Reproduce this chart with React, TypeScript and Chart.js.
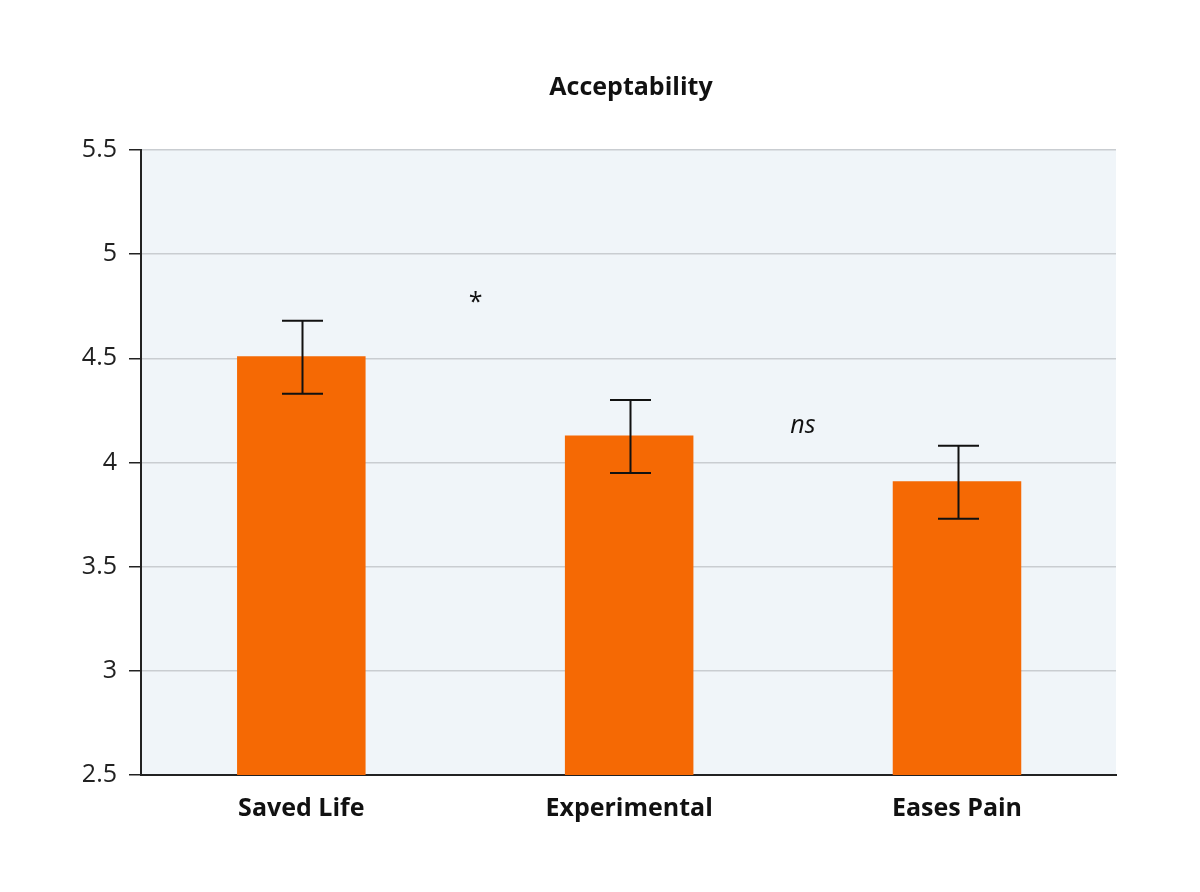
import { useRef, useEffect } from "react";
import { Chart, registerables } from "chart.js";

Chart.register(...registerables);

// data
const categories = ["Saved Life", "Experimental", "Eases Pain"];
const means = [4.51, 4.13, 3.91];
const errLow = [4.33, 3.95, 3.73];
const errHigh = [4.68, 4.3, 4.08];
// significance marks: label, x in category units, y in value units
const markLabels = ["*", "ns"];
const markX = [0.532, 1.53];
const markY = [4.765, 4.175];
const markItalic = [false, true];

const FONT = "'Open Sans', 'Noto Sans', sans-serif";

const plotBackground = {
  id: "plotBackground",
  beforeDraw(chart) {
    const { ctx, chartArea } = chart;
    ctx.save();
    ctx.fillStyle = "#f0f5f9";
    ctx.fillRect(chartArea.left, chartArea.top, chartArea.right - chartArea.left, chartArea.bottom - chartArea.top);
    ctx.restore();
  },
};

const errorBars = {
  id: "errorBars",
  afterDatasetsDraw(chart) {
    const { ctx } = chart;
    const y = chart.scales.y;
    const meta = chart.getDatasetMeta(0);
    ctx.save();
    ctx.strokeStyle = "#111";
    ctx.lineWidth = 2;
    meta.data.forEach((bar, i) => {
      const x = Math.round(bar.x) + 1.5;
      const top = y.getPixelForValue(errHigh[i]);
      const bottom = y.getPixelForValue(errLow[i]);
      ctx.beginPath();
      ctx.moveTo(x, top);
      ctx.lineTo(x, bottom);
      ctx.moveTo(x - 20.5, top);
      ctx.lineTo(x + 20.5, top);
      ctx.moveTo(x - 20.5, bottom);
      ctx.lineTo(x + 20.5, bottom);
      ctx.stroke();
    });
    ctx.restore();
  },
};

const sigMarks = {
  id: "sigMarks",
  afterDraw(chart) {
    const { ctx } = chart;
    const xs = chart.scales.x;
    const ys = chart.scales.y;
    ctx.save();
    ctx.fillStyle = "#111";
    ctx.textAlign = "center";
    ctx.textBaseline = "middle";
    markLabels.forEach((t, i) => {
      ctx.font = (markItalic[i] ? "italic " : "") + "25px " + FONT;
      ctx.fillText(t, xs.getPixelForValue(markX[i]), ys.getPixelForValue(markY[i]));
    });
    ctx.restore();
  },
};

const App = () => {
  const chartRef = useRef(null);
  const chartInstance = useRef(null);

  useEffect(() => {
    if (chartInstance.current) {
      chartInstance.current.destroy();
    }

    chartInstance.current = new Chart(chartRef.current.getContext("2d"), {
      type: "bar",
      data: {
        datasets: [
          {
            label: "Acceptability",
            data: means.map((m, i) => ({ x: i, y: m })),
            backgroundColor: "#f56904",
            borderWidth: 0,
            barPercentage: 0.392,
            categoryPercentage: 1,
          },
        ],
      },
      plugins: [plotBackground, errorBars, sigMarks],
      options: {
        animation: false,
        responsive: true,
        maintainAspectRatio: false,
        layout: {
          padding: { left: 62, right: 0, top: 0, bottom: 0 },
        },
        plugins: {
          legend: { display: false },
          tooltip: { enabled: false },
          title: {
            display: true,
            text: "Acceptability",
            color: "#111",
            font: { family: FONT, size: 25, weight: "bold" },
            padding: { top: 73, bottom: 47 },
          },
        },
        scales: {
          x: {
            type: "linear",
            offset: false,
            min: -0.489,
            max: 2.485,
            grid: { display: false },
            border: { display: true, color: "#222", width: 2 },
            ticks: {
              color: "#111",
              padding: 11,
              font: { family: FONT, size: 25, weight: "bold" },
              callback: (v) => categories[v],
            },
            afterBuildTicks: (scale) => {
              scale.ticks = categories.map((_, i) => ({ value: i }));
            },
            afterFit: (scale) => {
              scale.height = 117;
            },
          },
          y: {
            min: 2.5,
            max: 5.5,
            ticks: {
              stepSize: 0.5,
              color: "#222",
              padding: 12,
              font: { family: FONT, size: 25 },
              callback: (v) => String(v),
            },
            grid: {
              color: "#c9cdd1",
              lineWidth: 1.5,
              tickColor: "#222",
              tickLength: 12,
            },
            border: { display: true, color: "#222", width: 2 },
            afterFit: (scale) => {
              scale.width = 79;
            },
          },
          // empty right-hand axis, only keeps the right margin
          yRight: {
            position: "right",
            grid: { display: false },
            border: { display: false },
            ticks: { display: false },
            afterFit: (scale) => {
              scale.width = 84;
            },
          },
        },
      },
    });

    return () => {
      if (chartInstance.current) {
        chartInstance.current.destroy();
        chartInstance.current = null;
      }
    };
  }, []);

  return (
    <div style={{ position: "absolute", left: 0, top: 0, width: 1200, height: 892, background: "#fff" }}>
      <canvas ref={chartRef}></canvas>
    </div>
  );
};

export default App;
